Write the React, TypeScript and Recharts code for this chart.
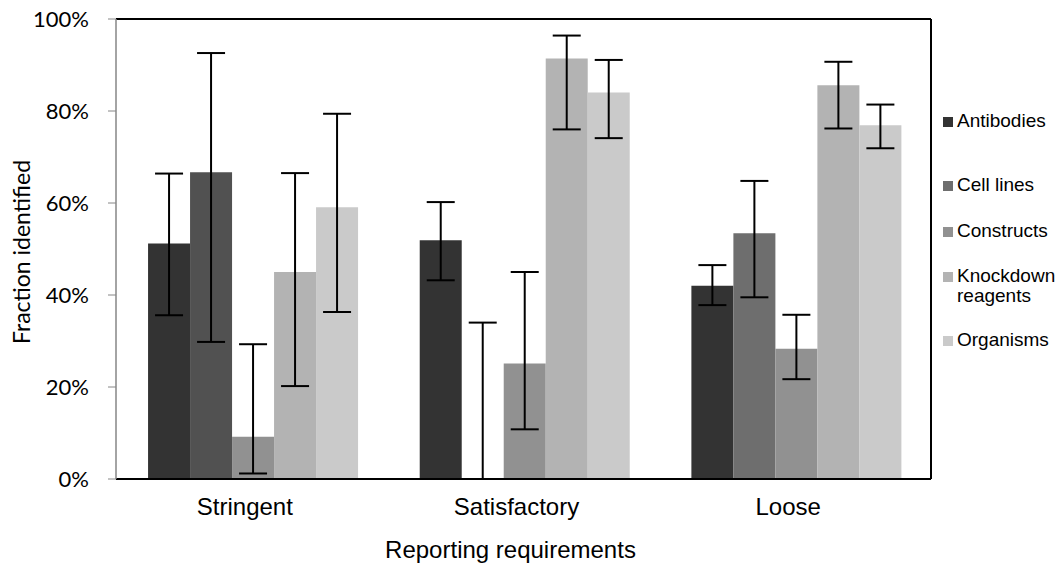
import { BarChart, Bar, Cell, XAxis, YAxis, ErrorBar, Legend, ReferenceLine } from "recharts";

const categories = ["Stringent", "Satisfactory", "Loose"];
const seriesNames = ["Antibodies", "Cell lines", "Constructs", "Knockdown reagents", "Organisms"];

// bar heights (%) per series, one value per category
// (Satisfactory cell lines is 0; a hair above 0 keeps its error bar drawn)
const antibodies = [51.2, 51.9, 42.0];
const cellLines = [66.7, 0.01, 53.4];
const constructs = [9.2, 25.1, 28.3];
const knockdown = [45.0, 91.4, 85.6];
const organisms = [59.1, 84.0, 76.9];

// error bar bounds (%)
const antibodiesLow = [35.6, 43.2, 37.8];
const antibodiesHigh = [66.4, 60.2, 46.5];
const cellLinesLow = [29.8, 0, 39.5];
const cellLinesHigh = [92.6, 34.0, 64.8];
const constructsLow = [1.2, 10.8, 21.7];
const constructsHigh = [29.3, 45.0, 35.7];
const knockdownLow = [20.2, 76.0, 76.2];
const knockdownHigh = [66.5, 96.4, 90.7];
const organismsLow = [36.3, 74.1, 71.9];
const organismsHigh = [79.4, 91.1, 81.4];

const yTicks = [0, 20, 40, 60, 80, 100];

const COLORS = ["#333333", "#6e6e6e", "#919191", "#b3b3b3", "#cacaca"];
const CELL_LINES_FILL = ["#515151", "#6e6e6e", "#6e6e6e"];

const ARIAL = "'Liberation Sans', Arial, sans-serif";
const CALIBRI = "Lato, 'Open Sans', sans-serif";

const values = [antibodies, cellLines, constructs, knockdown, organisms];
const lows = [antibodiesLow, cellLinesLow, constructsLow, knockdownLow, organismsLow];
const highs = [antibodiesHigh, cellLinesHigh, constructsHigh, knockdownHigh, organismsHigh];

const data = categories.map((name, i) => {
  const row: Record<string, unknown> = { name };
  values.forEach((v, s) => {
    row[`s${s}`] = v[i];
    row[`e${s}`] = [Math.max(0, v[i] - lows[s][i]), highs[s][i] - v[i]];
  });
  return row;
});

const legendTops = [0, 64, 110, 155, 219];

const renderLegend = () => (
  <div style={{ position: "relative", width: 116, height: 250, fontFamily: ARIAL, fontSize: 19, color: "#000" }}>
    {seriesNames.map((n, i) => (
      <div key={n} style={{ position: "absolute", left: 0, top: legendTops[i], display: "flex", alignItems: "flex-start", whiteSpace: "nowrap" }}>
        <span style={{ width: 10, height: 10, background: COLORS[i], marginTop: 5, marginRight: 4, flex: "none" }} />
        <span style={{ lineHeight: "20px", marginTop: -1 }}>
          {n === "Knockdown reagents" ? (
            <>
              Knockdown
              <br />
              reagents
            </>
          ) : (
            n
          )}
        </span>
      </div>
    ))}
  </div>
);

export default function App() {
  return (
    <div style={{ position: "absolute", left: 0, top: 0, background: "#fff", overflow: "hidden", width: 1058, height: 565 }}>
      <BarChart
        width={1058}
        height={565}
        data={data}
        margin={{ top: 19, right: 10, bottom: 6, left: 0 }}
        barCategoryGap="11.8%"
        barGap={0}
      >
        <XAxis
          dataKey="name"
          axisLine={{ stroke: "#000", strokeWidth: 2 }}
          tickLine={false}
          tickMargin={13}
          height={80}
          tick={{ fill: "#000", fontSize: 24, fontFamily: ARIAL, dx: -7 }}
          label={{ value: "Reporting requirements", position: "insideBottom", offset: 1, dx: -13, fill: "#000", fontSize: 24, fontFamily: ARIAL }}
        />
        <YAxis
          domain={[0, 100]}
          ticks={yTicks}
          width={116}
          axisLine={{ stroke: "#868686", strokeWidth: 1.5 }}
          tickLine={{ stroke: "#868686" }}
          tickSize={8}
          tickMargin={19}
          tickFormatter={(v) => `${v}%`}
          tick={{ fill: "#000", fontSize: 22, fontFamily: CALIBRI }}
          label={{ value: "Fraction identified", angle: -90, position: "insideLeft", offset: 22, dy: 3, style: { textAnchor: "middle" }, fill: "#000", fontSize: 23, fontFamily: CALIBRI }}
        />
        <YAxis
          yAxisId="right"
          orientation="right"
          domain={[0, 100]}
          width={1}
          tick={false}
          tickLine={false}
          axisLine={{ stroke: "#000", strokeWidth: 2 }}
        />
        <ReferenceLine y={100} stroke="#000" strokeWidth={2} />
        <Legend
          layout="vertical"
          align="right"
          verticalAlign="middle"
          content={renderLegend}
          wrapperStyle={{ left: 943, top: 112, width: 116 }}
        />
        {seriesNames.map((n, s) => (
          <Bar key={n} dataKey={`s${s}`} name={n} fill={COLORS[s]} isAnimationActive={false}>
            {s === 1 && data.map((d, i) => <Cell key={i} fill={CELL_LINES_FILL[i]} />)}
            <ErrorBar dataKey={`e${s}`} width={14} stroke="#000" strokeWidth={2} />
          </Bar>
        ))}
      </BarChart>
    </div>
  );
}
